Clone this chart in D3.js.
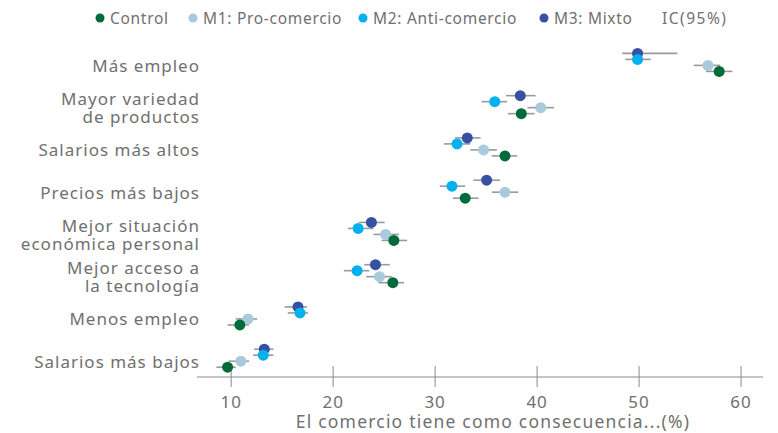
<!DOCTYPE html>
<html lang="es">
<head>
<meta charset="UTF-8">
<title>El comercio tiene como consecuencia</title>
<style>
  body { margin: 0; background: #fff; }
  svg text { font-family: "Noto Sans", sans-serif; fill: #707070; }
  .ci { stroke: #9a9a9a; stroke-width: 1.6px; }
  .axis path, .axis line { stroke: #8a8a8a; }
</style>
</head>
<body>
<svg width="778" height="433"></svg>
<script src="https://d3js.org/d3.v7.min.js"></script>
<script>
const categories = [
  ["Más empleo"],
  ["Mayor variedad", "de productos"],
  ["Salarios más altos"],
  ["Precios más bajos"],
  ["Mejor situación", "económica personal"],
  ["Mejor acceso a", "la tecnología"],
  ["Menos empleo"],
  ["Salarios más bajos"]
];
const seriesNames = ["Control", "M1: Pro-comercio", "M2: Anti-comercio", "M3: Mixto"];
const seriesColors = ["#006b3a", "#a9c9dd", "#00b0ef", "#3651a3"];

// point estimates, one per category
const control = [57.9, 38.5, 36.9, 33.0, 26.0, 25.9, 10.9, 9.7];
const m1 = [56.8, 40.4, 34.8, 36.9, 25.2, 24.6, 11.7, 11.0];
const m2 = [49.9, 35.9, 32.2, 31.7, 22.5, 22.4, 16.8, 13.2];
const m3 = [49.9, 38.4, 33.2, 35.1, 23.8, 24.2, 16.6, 13.3];
// 95% confidence interval bounds
const controlLo = [56.6, 37.2, 35.6, 31.8, 24.8, 24.5, 9.7, 8.6];
const controlHi = [59.2, 39.8, 38.1, 34.3, 27.3, 27.0, 11.8, 10.5];
const m1Lo = [55.4, 39.1, 33.5, 35.6, 24.0, 23.3, 10.5, 9.8];
const m1Hi = [58.0, 41.7, 36.1, 38.2, 26.5, 25.8, 12.6, 11.8];
const m2Lo = [48.7, 34.6, 30.9, 30.5, 21.5, 21.1, 15.6, 12.2];
const m2Hi = [51.2, 37.1, 33.5, 33.0, 24.0, 23.6, 17.6, 14.2];
const m3Lo = [48.4, 37.0, 32.0, 33.8, 22.6, 23.1, 15.3, 12.3];
const m3Hi = [53.8, 39.9, 34.5, 36.4, 25.1, 25.6, 17.5, 14.2];
const xTicks = [10, 20, 30, 40, 50, 60];

const values = [control, m1, m2, m3];
const lows = [controlLo, m1Lo, m2Lo, m3Lo];
const highs = [controlHi, m1Hi, m2Hi, m3Hi];

const svg = d3.select("svg");

const x = d3.scaleLinear().domain([6.7, 62.2]).range([197, 763]);
const y = d3.scalePoint().domain(d3.range(categories.length)).range([62.4, 358.2]);
// series stacked top to bottom: M3, M2, M1, Control
const off = d3.scalePoint().domain([3, 2, 1, 0]).range([-9, 9]);

// x axis
const axisY = 377;
const axis = svg.append("g")
  .attr("class", "axis")
  .attr("transform", `translate(0,${axisY})`)
  .call(d3.axisBottom(x).tickValues(xTicks).tickSize(10).tickSizeOuter(0).tickPadding(6));
axis.selectAll(".tick line").attr("y1", -11);
axis.selectAll("text").style("font-size", "17px").style("letter-spacing", "1px").attr("dy", "0.9em");
axis.select(".domain").attr("d", `M${x.range()[0]},0H${x.range()[1]}`);

svg.append("text")
  .attr("x", 493).attr("y", 428)
  .attr("text-anchor", "middle")
  .style("font-size", "17.5px")
  .style("letter-spacing", "1.2px")
  .text("El comercio tiene como consecuencia...(%)");

// category labels, one text per line
const c0 = categories.map((lines, i) => lines.map((l, j) => ({
  l, yy: y(i) + 9.5 + (j - (lines.length - 1) / 2) * 18.5
}))).flat();
svg.append("g").selectAll("text")
  .data(c0)
  .join("text")
  .attr("text-anchor", "end")
  .attr("x", 200)
  .attr("y", d => d.yy)
  .style("font-size", "17px")
  .style("letter-spacing", "1px")
  .text(d => d.l);

// points + CIs
const rows = [];
values.forEach((vals, s) => {
  vals.forEach((v, i) => rows.push({ s, i, v, lo: lows[s][i], hi: highs[s][i] }));
});
const order = [3, 2, 1, 0];
rows.sort((a, b) => order.indexOf(a.s) - order.indexOf(b.s));

const g = svg.append("g");
g.selectAll(".ci")
  .data(rows)
  .join("line")
  .attr("class", "ci")
  .attr("x1", d => x(d.lo))
  .attr("x2", d => x(d.hi))
  .attr("y1", d => y(d.i) + off(d.s))
  .attr("y2", d => y(d.i) + off(d.s));

g.selectAll("circle")
  .data(rows)
  .join("circle")
  .attr("cx", d => x(d.v))
  .attr("cy", d => y(d.i) + off(d.s))
  .attr("r", 5.5)
  .attr("fill", d => seriesColors[d.s]);

// legend
const legX = [100, 193, 363, 544];
const leg = svg.append("g").selectAll("g")
  .data(seriesNames)
  .join("g")
  .attr("transform", (d, i) => `translate(${legX[i]},18)`);
leg.append("circle").attr("r", 4.5).attr("fill", (d, i) => seriesColors[i]);
leg.append("text")
  .attr("x", 10).attr("y", 5.5)
  .style("font-size", "15.5px")
  .style("letter-spacing", "0.7px")
  .text(d => d);
svg.append("text")
  .attr("x", 662).attr("y", 23.5)
  .style("font-size", "15.5px")
  .style("letter-spacing", "1.5px")
  .text("IC(95%)");
</script>
</body>
</html>
